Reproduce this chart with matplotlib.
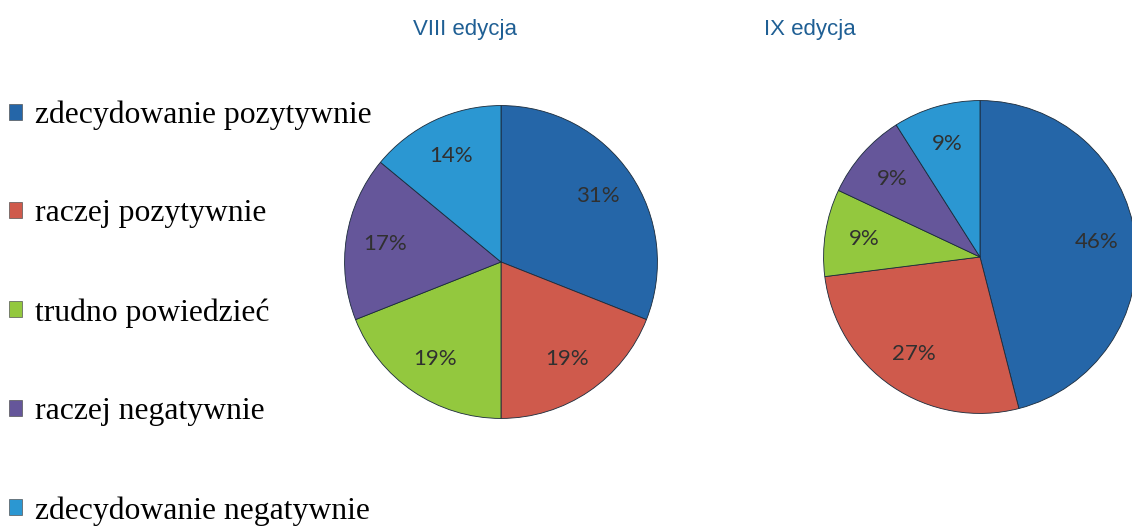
import matplotlib.pyplot as plt
from matplotlib.patches import Patch

categories = ["zdecydowanie pozytywnie", "raczej pozytywnie", "trudno powiedzieć",
              "raczej negatywnie", "zdecydowanie negatywnie"]
edycja_8 = [31, 19, 19, 17, 14]
edycja_9 = [46, 27, 9, 9, 9]
titles = ["VIII edycja", "IX edycja"]
colors = ["#2566a8", "#cf5a4c", "#93c83e", "#65569a", "#2b97d2"]

W, H = 1132, 530
fig = plt.figure(figsize=(W / 100, H / 100), dpi=100)


def place(cx, cy, r):
    # pixel center/radius -> figure fraction axes
    return [(cx - r) / W, (H - cy - r) / H, 2 * r / W, 2 * r / H]


for vals, pos in [(edycja_8, place(501, 262, 158)), (edycja_9, place(980, 257, 158))]:
    ax = fig.add_axes(pos)
    ax.pie(vals, colors=colors, startangle=90, counterclock=False,
           autopct="%d%%", pctdistance=0.75, radius=1,
           wedgeprops=dict(edgecolor="#1a2a3a", linewidth=0.6),
           textprops=dict(color="#303030", fontsize=16, family=["Lato", "DejaVu Sans"]))
    ax.set_xlim(-1.01, 1.01)
    ax.set_ylim(-1.01, 1.01)

fig.text(465 / W, 1 - 29 / H, titles[0], color="#1f5f94", fontsize=16,
         family=["Liberation Sans Narrow", "Liberation Sans"], ha="center", va="center")
fig.text(810 / W, 1 - 29 / H, titles[1], color="#1f5f94", fontsize=16,
         family=["Liberation Sans Narrow", "Liberation Sans"], ha="center", va="center")

handles = [Patch(facecolor=c, edgecolor="#555555", linewidth=0.5) for c in colors]
fig.legend(handles, categories, loc="upper left", bbox_to_anchor=(3 / W, 1 - 94 / H),
           frameon=False, prop=dict(family="Liberation Serif", size=22.8),
           handlelength=0.4, handleheight=0.4, handletextpad=0.4,
           labelspacing=2.2, borderaxespad=0, borderpad=0.2)

fig.savefig("out.png", dpi=100)
